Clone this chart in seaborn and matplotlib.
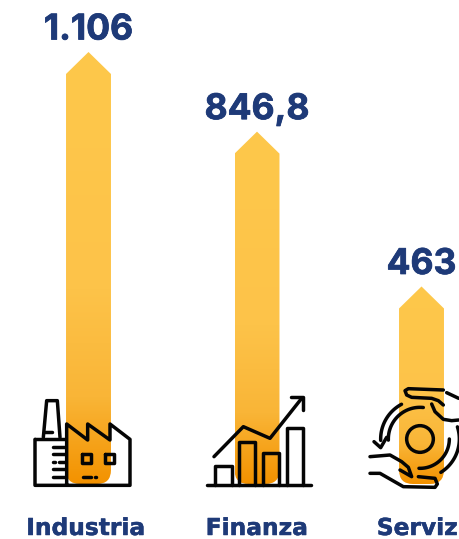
import numpy as np
import pandas as pd
import matplotlib
matplotlib.use("Agg")
import matplotlib.pyplot as plt
import matplotlib.patheffects as pe
import seaborn as sns
from matplotlib.colors import LinearSegmentedColormap
from matplotlib.path import Path
from matplotlib.patches import PathPatch, Circle

# ---- data -------------------------------------------------------------
categories = ["Industria", "Finanza", "Servizi"]
values = [1106, 846.8, 463]
value_labels = ["1.106", "846,8", "463"]

# ---- style ------------------------------------------------------------
NAVY = "#1E3A78"
INK = "#050505"
W, H = 459, 539
SCALE_POWER = 0.35
SCALE_FLOOR = 167
SHOULDER_PX = 22
CORNER_PX = 14
LW = 2.5

sns.set_theme(style="white")
plt.rcParams["font.family"] = ["Inter", "DejaVu Sans"]

fig = plt.figure(figsize=(W / 100, H / 100), dpi=100, facecolor="white")

# Value axes: compressed power scale, invisible frame, bars rise from y=484.
ax = fig.add_axes([5.25 / W, (H - 484) / H, 499.5 / W, 432 / H], clip_on=False)
frame = pd.DataFrame({"settore": categories, "valore": values})
sns.barplot(data=frame, x="settore", y="valore", width=0.27, color="#FEC84B", ax=ax)
ax.set_yscale("function", functions=(lambda v: np.power(np.maximum(v, 1e-6), SCALE_POWER),
                                     lambda t: np.power(np.maximum(t, 1e-6), 1 / SCALE_POWER)))
ax.set_ylim(SCALE_FLOOR, max(values))
ax.set_xlim(-0.5, 2.5)
ax.axis("off")
fig.canvas.draw()

# Overlay in pixel coordinates for the arrow shapes, texts and pictograms.
art = fig.add_axes([0, 0, 1, 1], zorder=3)
art.set_xlim(0, W)
art.set_ylim(H, 0)
art.axis("off")
art.patch.set_alpha(0)

ramp = LinearSegmentedColormap.from_list(
    "ramp", [(0, "#FEC84B"), (0.55, "#FDC349"), (0.8, "#F9B537"), (1, "#F39200")]
)
bar_nudge = [0, 2, 0]
label_nudge = [-2.5, 0, 0]


def arrow_path(x0, x1, tip, base):
    """Pentagon with a pointed top and rounded lower corners."""
    xm = (x0 + x1) / 2
    r = CORNER_PX
    verts = [(x0, tip + SHOULDER_PX), (xm, tip), (x1, tip + SHOULDER_PX), (x1, base - r),
             (x1, base), (x1 - r, base), (x0 + r, base), (x0, base), (x0, base - r),
             (x0, tip + SHOULDER_PX)]
    codes = [Path.MOVETO, Path.LINETO, Path.LINETO, Path.LINETO, Path.CURVE3, Path.CURVE3,
             Path.LINETO, Path.CURVE3, Path.CURVE3, Path.CLOSEPOLY]
    return Path(verts, codes)


heavy = [pe.withStroke(linewidth=0.55, foreground=NAVY)]
heavy_small = [pe.withStroke(linewidth=0.35, foreground=NAVY)]

for bar, value, text, cat, nudge, lab in zip(ax.patches, values, value_labels, categories,
                                             bar_nudge, label_nudge):
    (px0, _), (px1, py) = ax.transData.transform(
        [(bar.get_x(), value), (bar.get_x() + bar.get_width(), value)]
    )
    bar.set_visible(False)
    x0, x1, tip, base = px0 + nudge, px1 + nudge, H - py, 484
    patch = PathPatch(arrow_path(x0, x1, tip, base), fc="none", ec="none")
    art.add_patch(patch)
    grad = np.linspace(0, 1, 256).reshape(-1, 1)
    im = art.imshow(grad, cmap=ramp, extent=(x0, x1, base, tip), aspect="auto", zorder=1)
    im.set_clip_path(patch)
    xm = (x0 + x1) / 2
    art.text(xm, tip - 12.5, text, ha="center", va="baseline", color=NAVY,
             fontsize=25.5, fontweight="bold", zorder=5, path_effects=heavy)
    art.text(xm + lab, 535, cat, ha="center", va="baseline", color=NAVY, family="DejaVu Sans",
             fontsize=16.8, fontweight="bold", zorder=5, path_effects=heavy_small)

art.set_xlim(0, W)
art.set_ylim(H, 0)


def stroke(points, origin, lw=LW):
    xs = [origin[0] + p[0] / 3 for p in points]
    ys = [origin[1] + p[1] / 3 for p in points]
    art.plot(xs, ys, color=INK, lw=lw, solid_capstyle="round", solid_joinstyle="round",
             zorder=4)


def arc(cx, cy, r, a0, a1, origin, lw=LW):
    t = np.radians(np.linspace(a0, a1, 50))
    stroke(list(zip(cx + r * np.cos(t), cy + r * np.sin(t))), origin, lw)


# Factory pictogram
o = (0, 380)
stroke([(130, 172), (140, 62), (172, 62), (180, 172)], o)
stroke([(135, 155), (155, 155)], o)
stroke([(105, 178), (195, 178)], o)
stroke([(105, 178), (105, 316), (390, 316), (390, 178), (330, 132), (330, 180), (263, 132),
        (263, 180), (200, 132), (200, 316)], o)
for yy in (200, 222, 268, 292):
    stroke([(160, yy), (195, yy)], o)
stroke([(160, 245), (164, 245)], o)
stroke([(178, 245), (195, 245)], o)
for xx in (247, 315):
    stroke([(xx, 222), (xx + 27, 222), (xx + 27, 249), (xx, 249), (xx, 222)], o)
stroke([(248, 292), (272, 292)], o)
stroke([(286, 292), (288, 292)], o)

# Rising-chart pictogram
o = (200, 380)
stroke([(22, 316), (332, 316)], o)
for a, b, top in ((45, 95, 258), (118, 165, 187), (190, 238, 220), (260, 310, 143)):
    stroke([(a, 316), (a, top), (b, top), (b, 316)], o)
stroke([(42, 230), (130, 140), (210, 175), (305, 55)], o)
stroke([(272, 52), (310, 52), (310, 90)], o)

# Hands-and-cycle pictogram
o = (360, 380)
art.add_patch(Circle((360 + 180 / 3, 380 + 177 / 3), 40 / 3, fc="none", ec=INK, lw=LW, zorder=4))
arc(180, 177, 95, 178, 276, o)
arc(180, 177, 88, 0, 92, o)
arc(180, 177, 118, 178, 242, o)
stroke([(42, 185), (62, 203), (80, 172)], o)
arc(180, 177, 118, -18, 58, o)
stroke([(250, 30), (145, 26), (135, 32), (140, 45), (155, 52), (215, 55), (235, 62), (250, 75)], o)
stroke([(215, 72), (225, 95), (250, 118), (275, 122), (296, 120)], o)
stroke([(260, 38), (296, 55)], o)
stroke([(30, 230), (90, 225), (125, 245), (145, 262), (155, 290), (120, 270)], o)
stroke([(30, 280), (60, 280), (130, 320), (225, 322), (232, 312), (225, 295), (175, 290)], o)

fig.savefig("out.png", dpi=100, facecolor="white")
